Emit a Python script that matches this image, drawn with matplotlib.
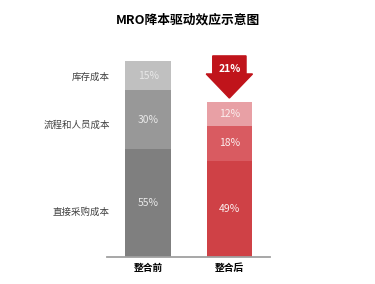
import numpy as np
import matplotlib.pyplot as plt
from matplotlib.patches import Polygon

plt.rcParams['font.family'] = ['Noto Sans CJK SC', 'DejaVu Sans']

# data
categories = ['整合前', '整合后']
segments = ['直接采购成本', '流程和人员成本', '库存成本']
before = [55, 30, 15]
after = [49, 18, 12]
colors_before = ['#7f7f7f', '#989898', '#c0c0c0']
colors_after = ['#cf4146', '#d95b61', '#e8a0a5']

fig = plt.figure(figsize=(3.75, 2.84), dpi=100)
ax = fig.add_axes([107 / 375, 27 / 284, 163 / 375, 196 / 284])

width = 0.56
x = np.arange(len(categories))
for vals, cols, xi, tcol in [(before, colors_before, x[0], '#e8e8e8'),
                             (after, colors_after, x[1], '#fbeeee')]:
    bottom = 0
    for v, c in zip(vals, cols):
        ax.bar(xi, v, width, bottom=bottom, color=c, edgecolor='none')
        ax.text(xi, bottom + v / 2, f'{v}%', ha='center', va='center',
                fontsize=7.5, color=tcol)
        bottom += v

# segment labels on the left
centers = np.cumsum(before) - np.array(before) / 2
shift = [4.5, 3, 1]
for name, cy, s in zip(segments, centers, shift):
    ax.text(-0.47, cy - s, name, ha='right', va='center', fontsize=6.8,
            color='#404040', clip_on=False)

# reduction arrow
total_b = sum(before)
total_a = sum(after)
drop = total_b - total_a
top = total_b + 2.6
tip = total_a + 2.1
shoulder = top - 9.2
bw = 0.205
hw = 0.285
xc = x[1]
arrow = Polygon([(xc - bw, top), (xc + bw, top), (xc + bw, shoulder),
                 (xc + hw, shoulder), (xc, tip), (xc - hw, shoulder),
                 (xc - bw, shoulder)], closed=True, color='#c0141b', clip_on=False)
ax.add_patch(arrow)
ax.text(xc, top - 6.6, f'{drop}%', ha='center', va='center', fontsize=7.5,
        color='white', fontweight='bold')

ax.set_xlim(-0.506, 1.5)
ax.set_ylim(0, 100)
ax.set_xticks(x)
ax.set_xticklabels(categories, fontsize=7, fontweight='bold')
ax.tick_params(axis='x', length=0, pad=4.5)
ax.set_yticks([])
for sp in ['top', 'right', 'left']:
    ax.spines[sp].set_visible(False)
ax.spines['bottom'].set_color('#a0a0a0')
ax.spines['bottom'].set_linewidth(1.3)
ax.patch.set_visible(False)

fig.text(188 / 375, 1 - 20 / 284, 'MRO降本驱动效应示意图', ha='center', va='center',
         fontsize=9.2, fontweight='bold')

fig.savefig('out.png', dpi=100)
